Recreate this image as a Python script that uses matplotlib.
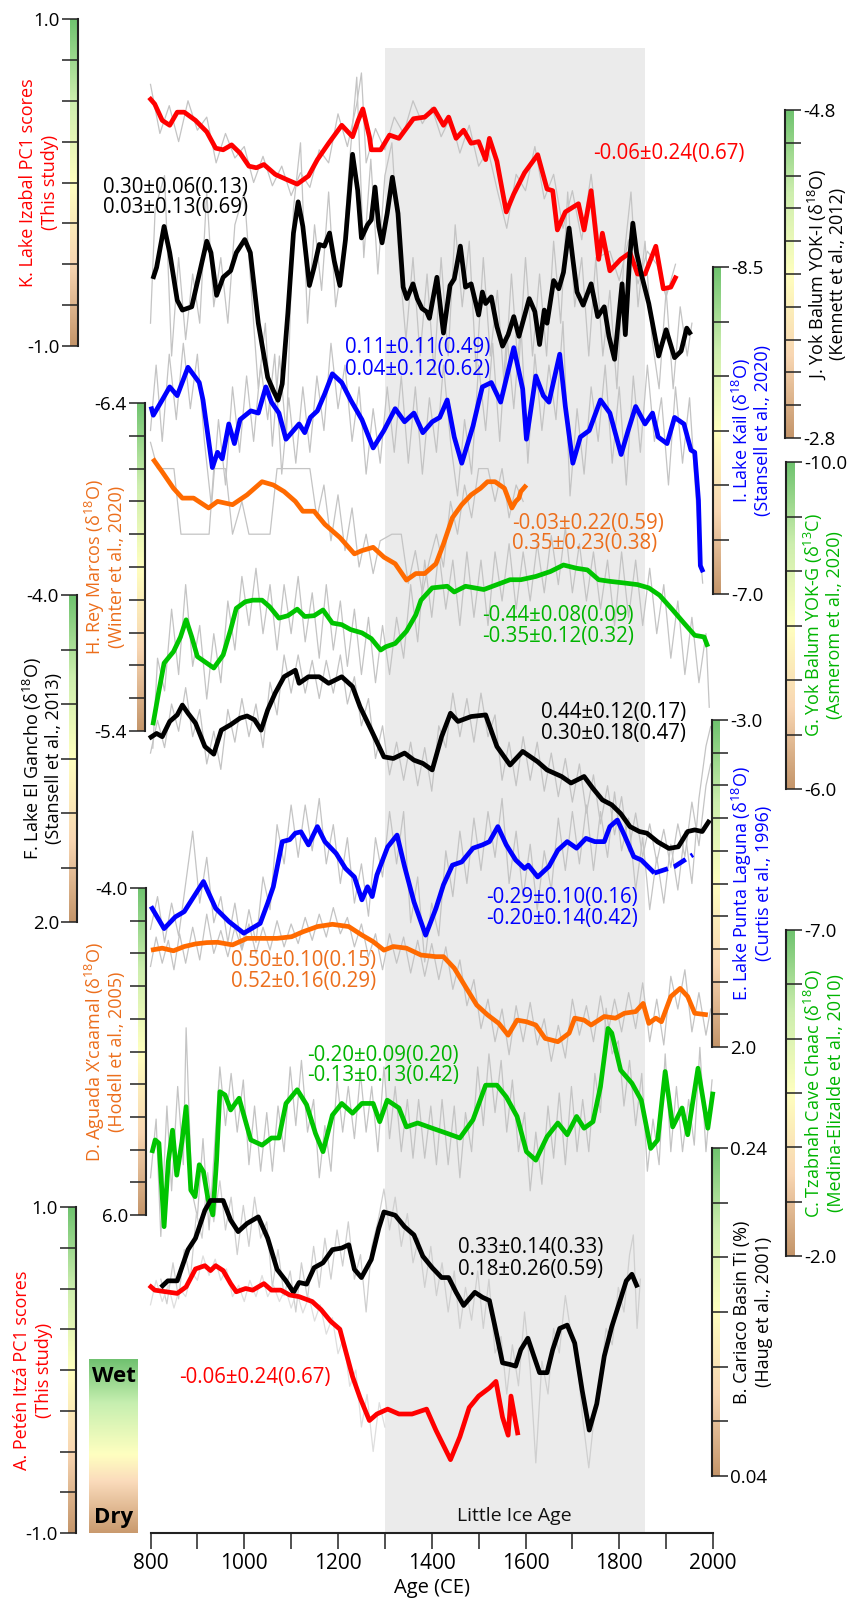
import numpy as np
import matplotlib.pyplot as plt
from matplotlib.colors import LinearSegmentedColormap

plt.rcParams['font.family'] = ['Open Sans', 'DejaVu Sans']
plt.rcParams['mathtext.fontset'] = 'custom'
plt.rcParams['mathtext.rm'] = 'Open Sans'
plt.rcParams['mathtext.it'] = 'Open Sans:italic'
plt.rcParams['axes.unicode_minus'] = False

# ---------------- records: (year CE, value) ----------------
# K. Lake Izabal PC1 scores
izabal = [(797, 0.52), (809, 0.48), (825, 0.38), (841, 0.35), (857, 0.43), (872, 0.43), (896, 0.38),
          (920, 0.31), (939, 0.21), (955, 0.20), (973, 0.23), (991, 0.18), (1010, 0.10), (1026, 0.09),
          (1042, 0.11), (1066, 0.05), (1089, 0.02), (1113, -0.01), (1137, 0.04), (1156, 0.14),
          (1180, 0.24), (1208, 0.35), (1231, 0.28), (1243, 0.38), (1253, 0.45), (1267, 0.28),
          (1271, 0.20), (1291, 0.20), (1310, 0.29), (1330, 0.27), (1361, 0.39), (1385, 0.40),
          (1405, 0.45), (1425, 0.35), (1436, 0.40), (1452, 0.27), (1468, 0.32), (1484, 0.24),
          (1500, 0.25), (1515, 0.14), (1523, 0.27), (1539, 0.13), (1559, -0.18), (1575, -0.07),
          (1598, 0.06), (1626, 0.17), (1646, -0.04), (1658, -0.05), (1668, -0.29), (1685, -0.18),
          (1713, -0.13), (1725, -0.29), (1740, -0.05), (1756, -0.47), (1764, -0.31), (1780, -0.54),
          (1803, -0.47), (1823, -0.43), (1839, -0.56), (1855, -0.56), (1878, -0.39), (1894, -0.65),
          (1910, -0.64), (1922, -0.57)]
izabal_raw = [(800, 0.60), (820, 0.30), (840, 0.47), (860, 0.25), (880, 0.50), (900, 0.32), (920, 0.40),
              (940, 0.12), (960, 0.30), (980, 0.15), (1000, 0.22), (1020, 0.00), (1040, 0.16),
              (1060, -0.02), (1080, 0.10), (1100, -0.08), (1120, 0.06), (1140, -0.03), (1160, 0.20),
              (1180, 0.12), (1200, 0.42), (1220, 0.22), (1240, 0.48), (1250, 0.67), (1260, 0.12),
              (1280, 0.33), (1300, 0.20), (1320, 0.40), (1340, 0.30), (1360, 0.50), (1380, 0.36),
              (1400, 0.46), (1420, 0.28), (1440, 0.40), (1460, 0.18), (1480, 0.35), (1500, 0.10),
              (1520, 0.20), (1540, -0.05), (1560, -0.28), (1580, 0.05), (1600, -0.05), (1620, 0.22),
              (1640, -0.10), (1660, 0.05), (1680, -0.28), (1700, -0.05), (1720, -0.35), (1740, 0.05),
              (1760, -0.45), (1780, -0.42), (1800, -0.60), (1820, -0.35), (1840, -0.62), (1860, -0.42),
              (1880, -0.50), (1900, -0.70), (1920, -0.50)]

# J. Yok Balum YOK-I d18O
yoki = [(805, -3.77), (813, -3.84), (829, -4.09), (841, -3.93), (857, -3.64), (868, -3.58), (888, -3.60),
        (904, -3.80), (920, -4.00), (929, -3.93), (941, -3.67), (955, -3.78), (971, -3.82), (983, -3.93),
        (1001, -4.01), (1013, -3.93), (1030, -3.50), (1050, -3.17), (1062, -3.09), (1072, -3.03),
        (1081, -3.13), (1093, -3.56), (1105, -4.05), (1115, -4.24), (1125, -4.09), (1139, -3.73),
        (1149, -3.84), (1160, -3.98), (1171, -3.97), (1182, -4.05), (1192, -3.88), (1204, -3.73),
        (1216, -4.01), (1231, -4.53), (1242, -4.31), (1250, -4.02), (1263, -4.10), (1271, -4.13),
        (1279, -4.33), (1287, -4.09), (1294, -3.99), (1305, -4.17), (1316, -4.39), (1328, -4.17),
        (1339, -3.72), (1347, -3.65), (1360, -3.74), (1369, -3.65), (1379, -3.59), (1389, -3.57),
        (1395, -3.53), (1411, -3.78), (1425, -3.44), (1439, -3.73), (1448, -3.77), (1461, -3.97),
        (1472, -3.72), (1484, -3.74), (1500, -3.55), (1508, -3.69), (1515, -3.62), (1527, -3.66),
        (1539, -3.48), (1551, -3.36), (1563, -3.43), (1575, -3.54), (1586, -3.42), (1608, -3.65),
        (1620, -3.57), (1630, -3.37), (1640, -3.58), (1646, -3.50), (1660, -3.76), (1671, -3.71),
        (1681, -3.81), (1693, -4.08), (1701, -3.89), (1710, -3.69), (1723, -3.61), (1740, -3.74),
        (1754, -3.54), (1768, -3.60), (1778, -3.42), (1790, -3.28), (1806, -3.74), (1813, -3.43),
        (1822, -3.89), (1829, -4.11), (1837, -3.93), (1847, -3.80), (1863, -3.62), (1884, -3.30),
        (1900, -3.46), (1918, -3.29), (1932, -3.33), (1944, -3.47), (1953, -3.43)]
yoki_raw = [(800, -3.5), (810, -4.2), (830, -4.4), (845, -3.3), (860, -3.9), (875, -3.4), (890, -3.8),
            (905, -3.5), (920, -4.3), (935, -3.6), (950, -3.9), (965, -3.5), (980, -4.1), (1000, -4.3),
            (1015, -3.7), (1030, -3.1), (1045, -3.5), (1060, -2.75), (1075, -3.3), (1090, -2.8),
            (1105, -4.2), (1120, -4.6), (1135, -3.5), (1150, -4.1), (1165, -3.7), (1180, -4.3),
            (1195, -3.6), (1210, -3.9), (1225, -4.5), (1240, -5.0), (1255, -3.9), (1270, -4.5),
            (1285, -3.8), (1300, -4.4), (1315, -4.6), (1330, -3.9), (1345, -3.4), (1360, -3.9),
            (1375, -3.3), (1390, -3.8), (1405, -3.2), (1420, -3.9), (1435, -3.3), (1450, -4.1),
            (1465, -3.6), (1480, -4.0), (1495, -3.2), (1510, -3.9), (1525, -3.3), (1540, -3.7),
            (1555, -3.1), (1570, -3.8), (1585, -3.2), (1600, -3.9), (1615, -3.3), (1630, -3.8),
            (1645, -3.3), (1660, -4.0), (1675, -3.5), (1690, -4.3), (1705, -3.6), (1720, -3.9),
            (1735, -3.3), (1750, -3.9), (1765, -3.3), (1780, -3.7), (1795, -3.1), (1810, -3.9),
            (1825, -4.3), (1840, -3.6), (1855, -4.0), (1870, -3.4), (1885, -3.1), (1900, -3.7),
            (1915, -3.1), (1930, -3.6), (1945, -3.3), (1955, -3.5)]

# I. Lake Kail d18O
kail = [(801, -7.86), (806, -7.82), (825, -7.89), (841, -7.95), (857, -7.91), (880, -8.04), (904, -7.97),
        (912, -7.89), (932, -7.58), (943, -7.65), (953, -7.62), (967, -7.78), (979, -7.69), (991, -7.80),
        (1014, -7.84), (1030, -7.83), (1046, -7.95), (1058, -7.88), (1074, -7.83), (1089, -7.71),
        (1101, -7.74), (1117, -7.78), (1129, -7.74), (1141, -7.81), (1156, -7.84), (1172, -7.92),
        (1188, -8.01), (1208, -7.97), (1227, -7.89), (1243, -7.83), (1251, -7.80), (1275, -7.67),
        (1298, -7.75), (1322, -7.85), (1342, -7.79), (1362, -7.83), (1381, -7.74), (1401, -7.79),
        (1417, -7.81), (1433, -7.89), (1448, -7.72), (1464, -7.60), (1488, -7.77), (1500, -7.88),
        (1508, -7.95), (1527, -7.97), (1547, -7.88), (1575, -8.13), (1594, -7.94), (1602, -7.71),
        (1622, -8.00), (1638, -7.91), (1650, -7.88), (1673, -8.10), (1685, -7.86), (1701, -7.60),
        (1717, -7.72), (1736, -7.75), (1760, -7.89), (1780, -7.83), (1804, -7.64), (1819, -7.75),
        (1835, -7.86), (1855, -7.78), (1871, -7.83), (1883, -7.72), (1902, -7.69), (1918, -7.81),
        (1938, -7.78), (1953, -7.66), (1961, -7.65), (1969, -7.43), (1973, -7.13), (1979, -7.10)]
kail_raw = [(800, -7.75), (812, -8.05), (825, -7.70), (840, -8.10), (855, -7.80), (870, -8.15),
            (885, -7.85), (900, -8.10), (915, -7.70), (930, -7.40), (945, -7.80), (960, -7.50),
            (975, -7.95), (990, -7.65), (1005, -8.00), (1020, -7.70), (1035, -8.05), (1050, -7.80),
            (1065, -8.10), (1080, -7.55), (1095, -7.90), (1110, -7.60), (1125, -7.95), (1140, -7.65),
            (1155, -8.00), (1170, -7.75), (1185, -8.15), (1200, -7.85), (1215, -8.05), (1230, -7.70),
            (1245, -7.95), (1260, -7.55), (1275, -7.85), (1290, -7.60), (1305, -7.95), (1320, -7.65),
            (1335, -8.00), (1350, -7.60), (1365, -7.95), (1380, -7.55), (1395, -7.90), (1410, -7.65),
            (1425, -8.05), (1440, -7.70), (1455, -7.45), (1470, -7.80), (1485, -7.55), (1500, -8.05),
            (1515, -7.75), (1530, -8.15), (1545, -7.70), (1560, -8.20), (1575, -7.85), (1590, -8.25),
            (1605, -7.60), (1620, -8.10), (1635, -7.75), (1650, -8.05), (1665, -7.80), (1680, -8.25),
            (1695, -7.45), (1710, -7.85), (1725, -7.55), (1740, -7.95), (1755, -7.70), (1770, -8.05),
            (1785, -7.60), (1800, -7.95), (1815, -7.50), (1830, -8.00), (1845, -7.65), (1860, -8.05),
            (1875, -7.70), (1890, -7.90), (1905, -7.50), (1920, -7.95), (1935, -7.60), (1950, -7.90),
            (1962, -7.50), (1970, -7.25), (1978, -7.05)]

# H. Rey Marcos d18O
rey_marcos = [(805, -6.23), (825, -6.19), (849, -6.14), (868, -6.11), (892, -6.11), (924, -6.08),
              (943, -6.10), (975, -6.09), (1006, -6.12), (1038, -6.16), (1062, -6.15), (1085, -6.13),
              (1109, -6.10), (1125, -6.07), (1149, -6.07), (1172, -6.03), (1204, -5.99), (1235, -5.94),
              (1251, -5.95), (1275, -5.96), (1298, -5.93), (1322, -5.91), (1346, -5.86), (1366, -5.88),
              (1385, -5.88), (1409, -5.91), (1425, -5.97), (1444, -6.05), (1464, -6.09), (1484, -6.12),
              (1504, -6.14), (1519, -6.16), (1535, -6.16), (1555, -6.14), (1571, -6.08), (1579, -6.10),
              (1586, -6.11), (1590, -6.13), (1602, -6.15)]
rey_marcos_raw = [(800, -6.28), (815, -6.20), (850, -6.20), (865, -6.00), (880, -6.00), (925, -6.00),
                  (935, -6.20), (960, -6.20), (975, -6.00), (995, -6.10), (1010, -6.00), (1055, -6.00),
                  (1070, -6.20), (1085, -6.20), (1140, -6.20), (1155, -6.05), (1170, -6.15), (1185, -5.98),
                  (1200, -6.12), (1215, -5.95), (1230, -6.08), (1245, -5.90), (1260, -6.00), (1275, -5.88),
                  (1290, -5.98), (1315, -6.00), (1335, -6.00), (1350, -5.85), (1365, -5.95), (1380, -5.82),
                  (1395, -5.92), (1410, -6.00), (1425, -5.90), (1440, -6.10), (1455, -6.00), (1470, -6.15),
                  (1485, -6.05), (1500, -6.20), (1520, -6.20), (1535, -6.10), (1550, -6.20), (1565, -6.05),
                  (1580, -6.15), (1595, -6.10)]

# G. Yok Balum YOK-G d13C
yokg = [(805, -6.78), (817, -7.17), (829, -7.54), (849, -7.68), (864, -7.86), (876, -8.07), (888, -7.86),
        (900, -7.62), (920, -7.54), (935, -7.48), (955, -7.64), (971, -7.95), (983, -8.21), (1002, -8.29),
        (1018, -8.31), (1038, -8.31), (1054, -8.23), (1074, -8.09), (1093, -8.12), (1113, -8.20),
        (1129, -8.11), (1149, -8.12), (1168, -8.19), (1188, -8.03), (1208, -8.01), (1227, -7.95),
        (1251, -7.91), (1271, -7.84), (1291, -7.70), (1302, -7.74), (1322, -7.78), (1346, -7.93),
        (1366, -8.13), (1377, -8.31), (1401, -8.46), (1433, -8.48), (1448, -8.41), (1472, -8.48),
        (1511, -8.44), (1539, -8.50), (1567, -8.56), (1590, -8.56), (1622, -8.60), (1653, -8.66),
        (1681, -8.74), (1709, -8.70), (1732, -8.68), (1756, -8.56), (1780, -8.54), (1811, -8.52),
        (1839, -8.50), (1863, -8.46), (1886, -8.37), (1914, -8.19), (1938, -8.03), (1961, -7.88),
        (1981, -7.86), (1989, -7.74)]
yokg_raw = [(805, -6.5), (815, -7.6), (830, -7.2), (845, -8.2), (860, -7.4), (875, -8.5), (890, -7.5),
            (905, -8.0), (920, -7.1), (935, -7.9), (950, -7.3), (965, -8.3), (980, -7.7), (995, -8.6),
            (1010, -8.0), (1025, -8.7), (1040, -7.9), (1055, -8.5), (1070, -7.7), (1085, -8.5),
            (1100, -7.9), (1115, -8.6), (1130, -7.8), (1145, -8.4), (1160, -7.6), (1175, -8.5),
            (1190, -7.7), (1205, -8.3), (1220, -7.5), (1235, -8.2), (1250, -7.4), (1265, -8.1),
            (1280, -7.3), (1295, -8.0), (1310, -7.4), (1325, -8.1), (1340, -7.6), (1355, -8.5),
            (1370, -7.8), (1385, -8.8), (1400, -8.1), (1415, -8.9), (1430, -8.2), (1445, -8.8),
            (1460, -8.0), (1475, -8.9), (1490, -8.1), (1505, -8.8), (1520, -8.0), (1535, -8.9),
            (1550, -8.3), (1565, -9.0), (1580, -8.2), (1595, -8.9), (1610, -8.3), (1625, -9.0),
            (1640, -8.4), (1655, -9.1), (1670, -8.5), (1685, -9.2), (1700, -8.4), (1715, -9.0),
            (1730, -8.3), (1745, -8.9), (1760, -8.2), (1775, -8.8), (1790, -8.0), (1805, -8.9),
            (1820, -8.1), (1835, -8.8), (1850, -8.0), (1865, -8.7), (1880, -7.9), (1895, -8.5),
            (1910, -7.6), (1925, -8.3), (1940, -7.4), (1955, -8.1), (1970, -7.3), (1985, -7.9),
            (1992, -7.0)]

# F. Lake El Gancho d18O
el_gancho = [(797, -1.37), (813, -1.46), (825, -1.40), (841, -1.68), (857, -1.80), (868, -1.98),
             (880, -1.83), (896, -1.65), (916, -1.22), (935, -1.08), (951, -1.52), (971, -1.62),
             (991, -1.74), (1006, -1.78), (1022, -1.71), (1036, -1.52), (1050, -1.89), (1066, -2.20),
             (1085, -2.50), (1109, -2.62), (1117, -2.38), (1137, -2.50), (1160, -2.50), (1180, -2.38),
             (1208, -2.50), (1231, -2.32), (1247, -1.95), (1271, -1.52), (1298, -1.03), (1318, -1.00),
             (1342, -1.10), (1362, -0.97), (1381, -0.91), (1401, -0.79), (1421, -1.40), (1440, -1.83),
             (1456, -1.68), (1484, -1.77), (1515, -1.80), (1539, -1.22), (1567, -0.88), (1594, -1.13),
             (1626, -0.94), (1646, -0.79), (1677, -0.67), (1697, -0.55), (1725, -0.67), (1744, -0.45),
             (1764, -0.24), (1784, -0.15), (1803, 0.01), (1823, 0.25), (1843, 0.34), (1859, 0.37),
             (1882, 0.53), (1906, 0.65), (1926, 0.62), (1946, 0.34), (1961, 0.31), (1977, 0.34),
             (1993, 0.13)]
el_gancho_raw = [(800, -1.1), (815, -1.7), (830, -1.2), (845, -2.0), (860, -1.5), (875, -2.3), (890, -1.4),
                 (905, -1.9), (920, -0.9), (935, -1.5), (950, -0.8), (965, -1.9), (980, -1.3), (995, -2.1),
                 (1010, -1.4), (1025, -2.0), (1040, -1.2), (1055, -2.4), (1070, -1.8), (1085, -2.9),
                 (1100, -2.2), (1115, -2.9), (1130, -2.2), (1145, -2.8), (1160, -2.1), (1175, -2.8),
                 (1190, -2.2), (1205, -2.9), (1220, -2.0), (1235, -2.5), (1250, -1.6), (1265, -2.1),
                 (1280, -1.0), (1295, -1.6), (1310, -0.7), (1325, -1.3), (1340, -0.6), (1355, -1.3),
                 (1370, -0.5), (1385, -1.2), (1400, -0.4), (1415, -1.6), (1430, -1.2), (1445, -2.2),
                 (1460, -1.4), (1475, -2.1), (1490, -1.3), (1505, -2.2), (1520, -1.4), (1535, -1.8),
                 (1550, -0.6), (1565, -1.3), (1580, -0.5), (1595, -1.4), (1610, -0.6), (1625, -1.3),
                 (1640, -0.4), (1655, -1.1), (1670, -0.3), (1685, -1.0), (1700, -0.2), (1715, -0.9),
                 (1730, 0.0), (1745, -0.7), (1760, 0.2), (1775, -0.5), (1790, 0.4), (1805, -0.3),
                 (1820, 0.7), (1835, 0.0), (1850, 0.8), (1865, 0.2), (1880, 0.9), (1895, 0.3),
                 (1910, 1.0), (1925, 0.2), (1940, 0.8), (1955, -0.2), (1970, 0.6), (1985, -0.5),
                 (1995, -0.9)]

# E. Lake Punta Laguna d18O (last section dashed)
punta_laguna = [(801, -0.15), (829, 0.19), (853, 0.01), (872, -0.07), (913, -0.53), (939, -0.12),
                (967, 0.08), (999, 0.26), (1034, 0.11), (1050, -0.20), (1062, -0.45), (1081, -1.14),
                (1097, -1.17), (1109, -1.27), (1121, -1.29), (1137, -1.09), (1156, -1.37), (1172, -1.14),
                (1196, -0.96), (1216, -0.73), (1235, -0.60), (1251, -0.25), (1263, -0.45), (1273, -0.30),
                (1283, -0.63), (1306, -1.06), (1326, -1.24), (1342, -0.76), (1362, -0.22), (1387, 0.29),
                (1409, -0.12), (1425, -0.48), (1444, -0.78), (1464, -0.83), (1488, -1.04), (1508, -1.09),
                (1523, -1.14), (1541, -1.37), (1559, -1.09), (1579, -0.86), (1598, -0.73), (1606, -0.78),
                (1626, -0.60), (1650, -0.76), (1669, -1.01), (1689, -1.14), (1709, -1.04), (1729, -1.19),
                (1748, -1.14), (1768, -1.14), (1780, -1.37), (1796, -1.47), (1811, -1.24), (1831, -0.91),
                (1847, -0.86), (1875, -0.66)]
punta_laguna_dashed = [(1875, -0.66), (1918, -0.76), (1957, -0.94)]
punta_laguna_raw = [(800, 0.2), (815, -0.3), (830, 0.4), (845, -0.2), (860, 0.3), (875, -0.5), (890, -1.3),
                    (905, -0.2), (920, -0.9), (935, 0.1), (950, -0.3), (965, 0.4), (980, -0.2), (995, 0.5),
                    (1010, -0.1), (1025, 0.4), (1040, -0.6), (1055, -0.1), (1070, -1.4), (1085, -0.8),
                    (1100, -1.7), (1115, -0.9), (1130, -1.7), (1145, -1.0), (1160, -1.8), (1175, -0.8),
                    (1190, -1.4), (1205, -0.5), (1220, -1.2), (1235, -0.2), (1250, -0.8), (1265, 0.0),
                    (1280, -1.2), (1295, -0.6), (1310, -1.6), (1325, -0.8), (1340, -1.6), (1355, 0.1),
                    (1370, -0.6), (1385, 0.7), (1400, -0.2), (1415, 0.3), (1430, -1.0), (1445, -0.3),
                    (1460, -1.3), (1475, -0.5), (1490, -1.5), (1505, -0.7), (1520, -1.6), (1535, -0.9),
                    (1550, -1.8), (1565, -0.5), (1580, -1.3), (1595, -0.3), (1610, -1.1), (1625, -0.1),
                    (1640, -1.0), (1655, -0.4), (1670, -1.5), (1685, -0.7), (1700, -1.6), (1715, -0.8),
                    (1730, -1.7), (1745, -0.7), (1760, -1.6), (1775, -0.9), (1790, -1.9), (1805, -1.0),
                    (1820, -1.5), (1835, -0.4), (1850, -1.2), (1865, -0.1), (1880, -0.9), (1895, -0.2),
                    (1910, -1.1), (1925, -0.4), (1940, -1.3), (1955, -0.5), (1970, -1.8), (1985, -2.6),
                    (1995, -2.9)]

# D. Aguada X'caamal d18O
xcaamal = [(801, -2.10), (825, -2.16), (849, -2.08), (872, -2.21), (896, -2.29), (920, -2.33),
           (943, -2.34), (975, -2.26), (1006, -2.46), (1038, -2.46), (1070, -2.46), (1101, -2.51),
           (1125, -2.66), (1156, -2.82), (1188, -2.89), (1223, -2.82), (1251, -2.56), (1275, -2.36),
           (1298, -2.10), (1318, -2.21), (1346, -2.16), (1377, -1.95), (1409, -1.90), (1425, -1.90),
           (1448, -1.55), (1472, -0.98), (1496, -0.42), (1519, -0.12), (1543, 0.14), (1563, 0.50),
           (1582, 0.04), (1602, 0.09), (1622, 0.19), (1642, 0.60), (1669, 0.70), (1693, 0.44),
           (1705, -0.02), (1725, 0.04), (1740, 0.19), (1768, -0.07), (1792, -0.02), (1811, -0.17),
           (1835, -0.22), (1851, -0.47), (1863, 0.14), (1878, -0.02), (1890, 0.09), (1910, -0.68),
           (1930, -0.93), (1946, -0.68), (1961, -0.17), (1989, -0.12)]
xcaamal_raw = [(800, -1.6), (812, -2.5), (825, -1.7), (838, -2.4), (850, -1.5), (862, -2.6), (875, -1.7),
               (890, -2.8), (905, -1.8), (920, -3.2), (935, -2.0), (950, -2.7), (965, -1.9), (980, -2.8),
               (995, -2.1), (1010, -2.9), (1025, -2.0), (1040, -2.8), (1055, -2.1), (1070, -3.0),
               (1085, -2.2), (1100, -2.9), (1115, -2.3), (1130, -3.1), (1145, -2.4), (1160, -3.2),
               (1175, -2.5), (1190, -3.4), (1205, -2.6), (1220, -3.1), (1235, -2.2), (1250, -2.9),
               (1265, -1.9), (1280, -2.6), (1295, -1.5), (1310, -2.6), (1325, -1.7), (1340, -2.5),
               (1355, -1.4), (1370, -2.4), (1385, -1.3), (1400, -2.3), (1415, -1.2), (1430, -2.2),
               (1445, -0.9), (1460, -1.8), (1475, -0.4), (1490, -1.2), (1505, 0.3), (1520, -0.6),
               (1535, 0.7), (1550, -0.3), (1565, 1.1), (1580, -0.4), (1595, 0.7), (1610, -0.5),
               (1625, 0.8), (1640, 0.0), (1655, 1.3), (1670, 0.2), (1685, 1.2), (1700, -0.6),
               (1715, 0.5), (1730, -0.4), (1745, 0.7), (1760, -0.7), (1775, 0.5), (1790, -0.6),
               (1805, 0.4), (1820, -0.8), (1835, 0.3), (1850, -1.1), (1865, 0.7), (1880, -0.6),
               (1895, 0.8), (1910, -1.3), (1925, -0.3), (1940, -1.5), (1955, 0.4), (1970, -0.8),
               (1985, 0.5), (1995, -0.3)]

# C. Tzabnah Cave Chaac d18O
tzabnah = [(803, -3.58), (810, -3.78), (818, -3.73), (829, -2.45), (838, -3.45), (847, -3.93),
           (856, -3.24), (867, -3.75), (876, -4.29), (886, -3.01), (895, -2.91), (904, -3.40),
           (913, -3.29), (923, -2.86), (933, -2.63), (941, -3.47), (948, -4.52), (959, -4.47),
           (971, -4.24), (989, -4.42), (1014, -3.78), (1038, -3.70), (1058, -3.81), (1074, -3.81),
           (1089, -4.34), (1113, -4.55), (1133, -4.32), (1152, -3.88), (1168, -3.60), (1188, -4.16),
           (1208, -4.34), (1231, -4.19), (1251, -4.34), (1275, -4.34), (1289, -4.06), (1305, -4.39),
           (1330, -4.27), (1346, -3.98), (1370, -4.04), (1401, -3.96), (1433, -3.88), (1460, -3.81),
           (1488, -4.09), (1515, -4.62), (1539, -4.62), (1559, -4.44), (1582, -4.14), (1602, -3.60),
           (1622, -3.47), (1646, -3.83), (1669, -4.04), (1689, -3.86), (1709, -4.14), (1725, -3.96),
           (1744, -4.06), (1760, -4.60), (1776, -5.49), (1784, -5.42), (1803, -4.85), (1827, -4.65),
           (1847, -4.39), (1867, -3.65), (1882, -3.78), (1898, -4.83), (1914, -3.98), (1934, -4.27),
           (1946, -3.86), (1968, -4.88), (1989, -3.96), (2000, -4.52)]
tzabnah_raw = [(800, -3.2), (812, -4.1), (822, -2.3), (835, -4.3), (845, -3.0), (858, -4.6), (870, -3.4),
               (876, -5.5), (888, -3.0), (900, -2.6), (912, -3.8), (925, -2.4), (935, -3.5), (948, -4.9),
               (960, -4.0), (972, -4.8), (985, -3.9), (998, -4.7), (1010, -3.4), (1022, -4.3),
               (1035, -3.3), (1048, -4.2), (1060, -3.3), (1072, -4.3), (1085, -3.6), (1098, -4.9),
               (1110, -4.0), (1122, -5.0), (1135, -3.9), (1148, -4.4), (1160, -3.2), (1172, -4.0),
               (1185, -3.3), (1198, -4.7), (1210, -3.9), (1222, -4.6), (1235, -3.8), (1248, -4.8),
               (1260, -3.9), (1272, -4.6), (1285, -3.6), (1298, -4.9), (1310, -3.8), (1322, -4.6),
               (1335, -3.6), (1348, -4.4), (1360, -3.5), (1372, -4.4), (1385, -3.5), (1398, -4.3),
               (1410, -3.4), (1422, -4.4), (1435, -3.4), (1448, -4.3), (1460, -3.2), (1472, -4.2),
               (1485, -3.6), (1498, -4.9), (1510, -4.0), (1522, -5.1), (1535, -4.2), (1548, -5.0),
               (1560, -3.9), (1572, -4.7), (1585, -3.6), (1598, -4.2), (1610, -3.0), (1622, -3.9),
               (1635, -3.1), (1648, -4.3), (1660, -3.5), (1672, -4.5), (1685, -3.4), (1698, -4.6),
               (1710, -3.6), (1722, -4.4), (1735, -3.6), (1748, -4.8), (1760, -4.2), (1772, -5.8),
               (1785, -5.1), (1798, -5.3), (1810, -4.3), (1822, -5.0), (1835, -4.0), (1848, -4.8),
               (1860, -3.3), (1872, -4.1), (1885, -3.4), (1898, -5.1), (1910, -3.6), (1922, -4.6),
               (1935, -3.6), (1948, -4.4), (1960, -3.7), (1972, -5.2), (1985, -3.6), (1998, -4.7)]

# B. Cariaco Basin Ti (%)
cariaco = [(822, 0.155), (837, 0.159), (857, 0.159), (880, 0.178), (896, 0.185), (916, 0.202),
           (928, 0.208), (955, 0.208), (971, 0.196), (987, 0.189), (1006, 0.194), (1030, 0.198),
           (1050, 0.185), (1070, 0.166), (1089, 0.159), (1105, 0.152), (1117, 0.158), (1133, 0.157),
           (1149, 0.167), (1168, 0.170), (1188, 0.178), (1208, 0.179), (1223, 0.181), (1235, 0.166),
           (1250, 0.161), (1271, 0.172), (1287, 0.191), (1298, 0.201), (1322, 0.199), (1342, 0.192),
           (1362, 0.187), (1381, 0.174), (1401, 0.167), (1421, 0.161), (1436, 0.161), (1452, 0.152),
           (1468, 0.144), (1492, 0.152), (1508, 0.149), (1523, 0.147), (1535, 0.131), (1551, 0.109),
           (1567, 0.108), (1579, 0.107), (1590, 0.117), (1605, 0.124), (1618, 0.113), (1630, 0.103),
           (1646, 0.103), (1658, 0.117), (1673, 0.130), (1689, 0.132), (1705, 0.121), (1721, 0.092),
           (1736, 0.068), (1752, 0.084), (1768, 0.113), (1784, 0.131), (1804, 0.149), (1815, 0.159),
           (1827, 0.163), (1839, 0.155)]
cariaco_raw = [(822, 0.160), (835, 0.145), (848, 0.170), (860, 0.148), (872, 0.178), (885, 0.160),
               (898, 0.200), (910, 0.185), (922, 0.225), (935, 0.195), (948, 0.220), (960, 0.190),
               (972, 0.210), (985, 0.175), (998, 0.205), (1010, 0.180), (1022, 0.210), (1035, 0.185),
               (1048, 0.195), (1060, 0.155), (1072, 0.178), (1085, 0.150), (1098, 0.165), (1110, 0.140),
               (1122, 0.170), (1135, 0.148), (1148, 0.180), (1160, 0.155), (1172, 0.185), (1185, 0.160),
               (1198, 0.190), (1210, 0.168), (1222, 0.195), (1235, 0.160), (1248, 0.175), (1260, 0.140),
               (1272, 0.180), (1285, 0.195), (1298, 0.215), (1310, 0.190), (1322, 0.210), (1335, 0.180),
               (1348, 0.200), (1360, 0.170), (1372, 0.185), (1385, 0.155), (1398, 0.180), (1410, 0.150),
               (1422, 0.170), (1435, 0.140), (1448, 0.165), (1460, 0.130), (1472, 0.155), (1485, 0.135),
               (1498, 0.165), (1510, 0.130), (1522, 0.160), (1535, 0.115), (1548, 0.125), (1560, 0.090),
               (1572, 0.120), (1585, 0.095), (1598, 0.140), (1610, 0.105), (1622, 0.048), (1635, 0.110),
               (1648, 0.090), (1660, 0.130), (1672, 0.115), (1685, 0.150), (1698, 0.125), (1710, 0.110),
               (1722, 0.075), (1735, 0.045), (1748, 0.080), (1760, 0.100), (1772, 0.130), (1785, 0.120),
               (1798, 0.155), (1810, 0.140), (1822, 0.175), (1830, 0.187), (1838, 0.130), (1845, 0.160)]

# A. Petén Itzá PC1 scores
peten = [(797, 0.52), (809, 0.49), (833, 0.48), (857, 0.47), (876, 0.51), (896, 0.62), (916, 0.64),
         (928, 0.61), (939, 0.64), (955, 0.61), (971, 0.53), (983, 0.48), (1003, 0.50), (1018, 0.49),
         (1042, 0.53), (1058, 0.49), (1078, 0.49), (1097, 0.46), (1117, 0.45), (1145, 0.42),
         (1164, 0.37), (1184, 0.30), (1204, 0.25), (1216, 0.12), (1231, -0.04), (1247, -0.17),
         (1267, -0.31), (1283, -0.27), (1306, -0.24), (1330, -0.27), (1358, -0.27), (1389, -0.24),
         (1409, -0.37), (1440, -0.55), (1460, -0.41), (1480, -0.23), (1500, -0.16), (1523, -0.11),
         (1537, -0.07), (1551, -0.29), (1563, -0.40), (1569, -0.16), (1584, -0.40)]
peten_raw = [(800, 0.40), (812, 0.55), (825, 0.42), (838, 0.52), (850, 0.38), (862, 0.50), (875, 0.45),
             (888, 0.60), (900, 0.55), (912, 0.70), (925, 0.58), (938, 0.68), (950, 0.55), (962, 0.62),
             (975, 0.45), (988, 0.52), (1000, 0.42), (1012, 0.55), (1025, 0.45), (1038, 0.58),
             (1050, 0.45), (1062, 0.52), (1075, 0.42), (1088, 0.50), (1100, 0.38), (1112, 0.48),
             (1125, 0.35), (1138, 0.45), (1150, 0.30), (1162, 0.40), (1175, 0.22), (1188, 0.32),
             (1200, 0.10), (1212, 0.20), (1225, -0.10), (1238, 0.00), (1250, -0.35), (1262, -0.15),
             (1275, -0.50), (1288, -0.20), (1300, -0.35)]

LIA = (1300, 1855)

# ---------------- layout (pixels of an 859 x 1598 canvas) ----------------
W, H = 859, 1598
X0, X1 = 150.5, 713.0          # x of 800 CE and 2000 CE
RED, BLACK, BLUE = '#ff0000', '#000000', '#0000ff'
ORANGE, ORANGE_T = '#ff6a00', '#ec6e1c'
GREEN, GREEN_T = '#00c400', '#00b400'
GREY = '#c4c4c4'

fig = plt.figure(figsize=(W / 100, H / 100), dpi=100)

wet_dry = LinearSegmentedColormap.from_list(
    'wetdry', [(0.0, '#c4956a'), (0.25, '#f8d6b2'), (0.5, '#ffffbf'), (0.75, '#cdeeae'), (1.0, '#6fc36f')])
box_cmap = LinearSegmentedColormap.from_list(
    'box', [(0.0, '#c99a6e'), (0.3, '#fbdcbc'), (0.45, '#ffffc0'), (0.75, '#c6efb0'), (1.0, '#70c170')])
grad = np.linspace(0, 1, 256).reshape(-1, 1)


def px_axes(left, top, right, bottom, z):
    ax = fig.add_axes([left / W, 1 - bottom / H, (right - left) / W, (bottom - top) / H])
    ax.set_zorder(z)
    ax.patch.set_visible(False)
    for s in ax.spines.values():
        s.set_visible(False)
    ax.set_xticks([])
    ax.set_yticks([])
    return ax


# background: Little Ice Age band
bg = px_axes(X0, 48, X1, 1533, 0)
bg.set_xlim(800, 2000)
bg.set_ylim(0, 1)
bg.axvspan(*LIA, color='#ebebeb', lw=0)
bg.text(1577, 0.0115, 'Little Ice Age', ha='center', va='center', fontsize=14, color='#111111')


def panel(top, bottom, vtop, vbot, nticks, side, axis_px, fmt, smooth, raw, color,
          raw_color=GREY, label=None, label_color=None, label_x=None):
    g = px_axes(X0, top, X1, bottom, 1)
    g.set_xlim(800, 2000)
    g.set_ylim(vbot, vtop)
    if raw is not None:
        r = np.array(raw)
        g.plot(r[:, 0], r[:, 1], color=raw_color, lw=0.9, clip_on=False)

    # colour strip beside the axis line
    sx = axis_px - 8 if side == 'left' else axis_px
    sa = px_axes(sx, top, sx + 8, bottom, 2)
    sa.imshow(grad, aspect='auto', cmap=wet_dry, extent=[0, 1, 0, 1], origin='lower')

    ax = px_axes(X0, top, X1, bottom, 3)
    ax.set_xlim(800, 2000)
    ax.set_ylim(vbot, vtop)
    s = np.array(smooth)
    ax.plot(s[:, 0], s[:, 1], color=color, lw=3.4, clip_on=False, solid_capstyle='butt')

    sp = ax.spines[side]
    sp.set_visible(True)
    sp.set_position(('axes', (axis_px - X0) / (X1 - X0)))
    sp.set_linewidth(1.5)
    sp.set_color('#222222')
    ticks = np.linspace(vbot, vtop, nticks)
    labels = [''] * nticks
    labels[0] = fmt.format(vbot)
    labels[-1] = fmt.format(vtop)
    ax.set_yticks(ticks)
    ax.set_yticklabels(labels)
    ax.yaxis.set_ticks_position(side)
    ax.tick_params(axis='y', direction='out', length=11.5, width=1.1, pad=1.5,
                   labelsize=13.5, color='#222222')

    if label is not None:
        yc = (top + bottom) / 2
        for txt, lx in zip(label, label_x):
            fig.text(lx / W, 1 - yc / H, txt, rotation=90, ha='center', va='center',
                     color=label_color, fontsize=13)
    return ax


d18 = '(δ$^{18}$O)'

panel(19, 346, 1.0, -1.0, 9, 'left', 78, '{:.1f}', izabal, izabal_raw, RED,
      label=['K. Lake Izabal PC1 scores', '(This study)'], label_color=RED, label_x=[28, 50])
panel(110, 438, -4.8, -2.8, 11, 'right', 785, '{:.1f}', yoki, yoki_raw, BLACK,
      label=['J. Yok Balum YOK-I ' + d18, '(Kennett et al., 2012)'], label_color=BLACK, label_x=[817, 838])
panel(267, 594, -8.5, -7.0, 7, 'right', 713, '{:.1f}', kail, kail_raw, BLUE,
      label=['I. Lake Kail ' + d18, '(Stansell et al., 2020)'], label_color=BLUE, label_x=[741, 763])
panel(403, 731, -6.4, -5.4, 11, 'left', 145, '{:.1f}', rey_marcos, rey_marcos_raw, ORANGE,
      label=['H. Rey Marcos ' + d18, '(Winter et al., 2020)'], label_color=ORANGE_T, label_x=[95, 117])
panel(462, 789, -10.0, -6.0, 7, 'right', 786, '{:.1f}', yokg, yokg_raw, GREEN,
      label=['G. Yok Balum YOK-G (δ$^{13}$C)', '(Asmerom et al., 2020)'], label_color=GREEN_T,
      label_x=[813, 835])
panel(595, 922, -4.0, 2.0, 7, 'left', 77, '{:.1f}', el_gancho, el_gancho_raw, BLACK,
      label=['F. Lake El Gancho ' + d18, '(Stansell et al., 2013)'], label_color=BLACK, label_x=[32, 54])
ax_e = panel(720, 1047, -3.0, 2.0, 11, 'right', 712, '{:.1f}', punta_laguna, punta_laguna_raw, BLUE,
             label=['E. Lake Punta Laguna ' + d18, '(Curtis et al., 1996)'], label_color=BLUE,
             label_x=[742, 764])
pd_ = np.array(punta_laguna_dashed)
ax_e.plot(pd_[:, 0], pd_[:, 1], color=BLUE, lw=3.4, ls=(0, (3, 1.3)), clip_on=False)
panel(888, 1215, -4.0, 6.0, 11, 'left', 146, '{:.1f}', xcaamal, xcaamal_raw, ORANGE,
      label=['D. Aguada X\u2019caamal ' + d18, '(Hodell et al., 2005)'], label_color=ORANGE_T,
      label_x=[95, 117])
panel(930, 1256, -7.0, -2.0, 7, 'right', 786, '{:.1f}', tzabnah, tzabnah_raw, GREEN,
      label=['C. Tzabnah Cave Chaac ' + d18, '(Medina-Elizalde et al., 2010)'], label_color=GREEN_T,
      label_x=[813, 836])
panel(1148, 1476, 0.24, 0.04, 7, 'right', 712, '{:.2f}', cariaco, cariaco_raw, BLACK, raw_color='#cfcfcf',
      label=['B. Cariaco Basin Ti (%)', '(Haug et al., 2001)'], label_color=BLACK, label_x=[742, 764])
ax_a = panel(1207, 1533, 1.0, -1.0, 9, 'left', 76, '{:.1f}', peten, peten_raw, RED, raw_color='#dedede',
             label=['A. Petén Itzá PC1 scores', '(This study)'], label_color=RED, label_x=[22, 44])

# shared age axis
sp = ax_a.spines['bottom']
sp.set_visible(True)
sp.set_linewidth(1.5)
sp.set_color('#222222')
ax_a.set_xticks(np.arange(800, 2001, 100))
ax_a.set_xticklabels([str(v) if v % 200 == 0 else '' for v in range(800, 2001, 100)])
ax_a.tick_params(axis='x', direction='out', length=11.5, width=1.1, pad=3, labelsize=15, color='#222222')
fig.text((X0 + X1) / 2 / W, 1 - 1588 / H, 'Age (CE)', ha='center', va='center', fontsize=14.5)

# Wet / Dry legend box
lg = px_axes(89, 1359, 138, 1533, 2)
lg.imshow(grad, aspect='auto', cmap=box_cmap, extent=[0, 1, 0, 1], origin='lower')
lg.text(0.5, 0.9, 'Wet', transform=lg.transAxes, ha='center', va='center', fontsize=16, fontweight='bold')
lg.text(0.5, 0.09, 'Dry', transform=lg.transAxes, ha='center', va='center', fontsize=16, fontweight='bold')

# correlation annotations
notes = [
    (593, [153], ['-0.06±0.24(0.67)'], RED),
    (103, [187, 208], ['0.30±0.06(0.13)', '0.03±0.13(0.69)'], BLACK),
    (345, [348, 370], ['0.11±0.11(0.49)', '0.04±0.12(0.62)'], BLUE),
    (512, [523, 544], ['-0.03±0.22(0.59)', '0.35±0.23(0.38)'], ORANGE_T),
    (482, [616, 637], ['-0.44±0.08(0.09)', '-0.35±0.12(0.32)'], GREEN_T),
    (541, [712, 733], ['0.44±0.12(0.17)', '0.30±0.18(0.47)'], BLACK),
    (486, [897, 918], ['-0.29±0.10(0.16)', '-0.20±0.14(0.42)'], BLUE),
    (231, [961, 982], ['0.50±0.10(0.15)', '0.52±0.16(0.29)'], ORANGE_T),
    (307, [1055, 1076], ['-0.20±0.09(0.20)', '-0.13±0.13(0.42)'], GREEN_T),
    (458, [1248, 1270], ['0.33±0.14(0.33)', '0.18±0.26(0.59)'], BLACK),
    (179, [1378], ['-0.06±0.24(0.67)'], RED),
]
for x, ys, lines, c in notes:
    for y, t in zip(ys, lines):
        fig.text(x / W, 1 - y / H, t, ha='left', va='center', fontsize=14.8, color=c)

fig.savefig('out.png', dpi=100)
